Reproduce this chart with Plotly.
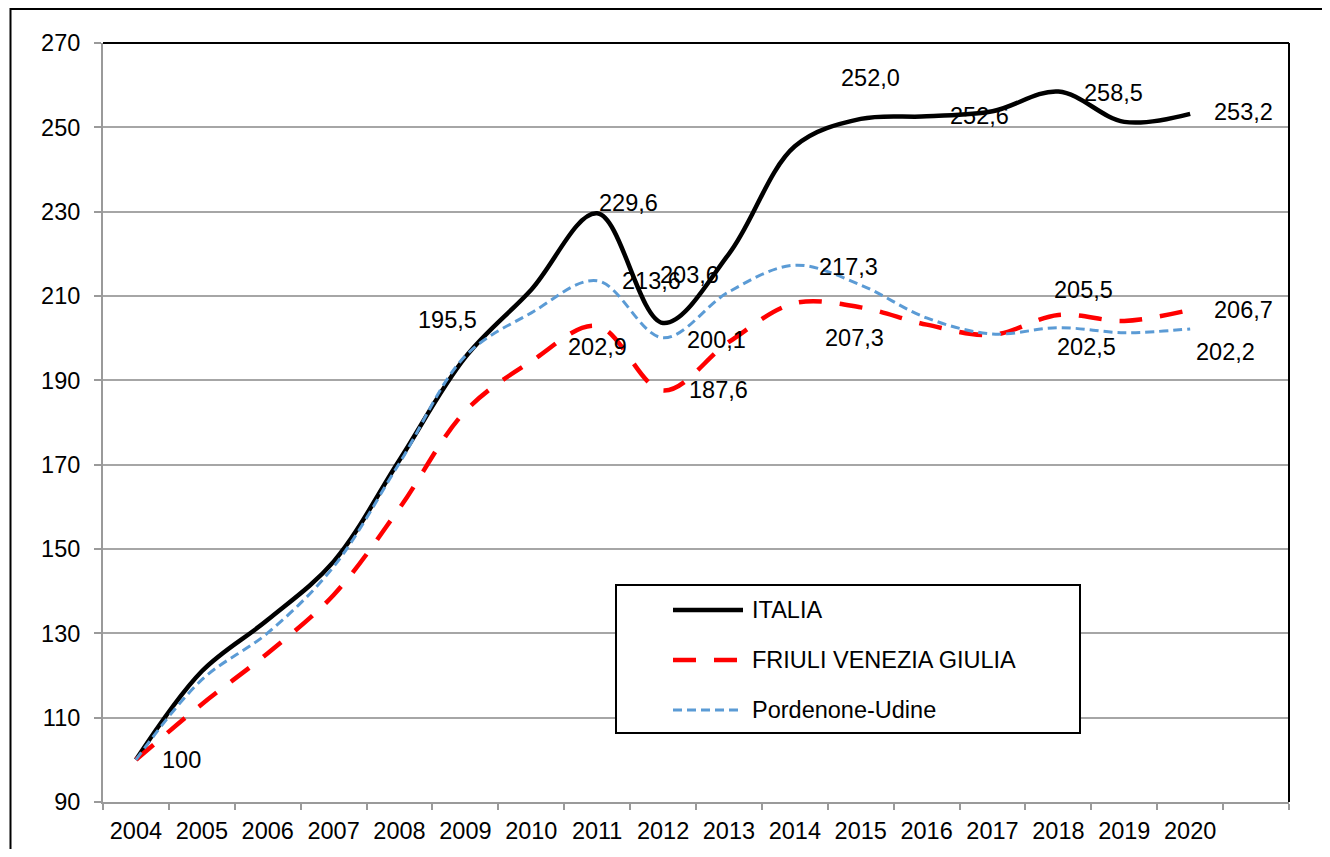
import plotly.graph_objects as go

# ---------------- data ----------------
years = ["2004", "2005", "2006", "2007", "2008", "2009", "2010", "2011", "2012",
         "2013", "2014", "2015", "2016", "2017", "2018", "2019", "2020"]

italia = [100, 121.0, 133.2, 147.0, 171.1, 195.5, 211.5, 229.6, 203.6,
          220.0, 245.5, 252.0, 252.6, 253.8, 258.5, 251.3, 253.2]
fvg = [100, 113.2, 125.3, 139.1, 159.7, 182.7, 194.5, 202.9, 187.6,
       199.1, 208.3, 207.3, 203.2, 200.8, 205.5, 204.1, 206.7]
pordenone_udine = [100, 119.0, 130.1, 145.8, 170.4, 195.8, 206.0, 213.6, 200.1,
                   211.0, 217.3, 212.6, 204.8, 201.0, 202.5, 201.3, 202.2]

series_names = ["ITALIA", "FRIULI VENEZIA GIULIA", "Pordenone-Udine"]

# years that carry a data label, per series
italia_label_years = ["2004", "2009", "2011", "2012", "2015", "2016", "2018", "2020"]
fvg_label_years = ["2011", "2012", "2015", "2018", "2020"]
pu_label_years = ["2011", "2012", "2014", "2018", "2020"]

y_ticks = [90, 110, 130, 150, 170, 190, 210, 230, 250, 270]

# ---------------- styles ----------------
FONT = "Arial, Liberation Sans, sans-serif"
FS = 23.5
GRID = "#a6a6a6"
AXIS = "#9a9a9a"

styles = {
    "ITALIA": dict(color="#000000", width=4.5, dash="solid"),
    "FRIULI VENEZIA GIULIA": dict(color="#ff0000", width=4.5, dash="23px,18px"),
    "Pordenone-Udine": dict(color="#5b9bd5", width=3, dash="9px,5px"),
}

# label placement: (xanchor, xshift, yshift) in pixels
label_pos = {
    ("ITALIA", "2004"): ("left", 24, 0),
    ("ITALIA", "2009"): ("center", -18, 37),
    ("ITALIA", "2011"): ("left", 0, 10),
    ("ITALIA", "2012"): ("left", -5, 48),
    ("ITALIA", "2015"): ("center", 10, 41),
    ("ITALIA", "2016"): ("left", 21, 0),
    ("ITALIA", "2018"): ("left", 24, -2),
    ("ITALIA", "2020"): ("left", 22, 2),
    ("FRIULI VENEZIA GIULIA", "2011"): ("center", 0, -21),
    ("FRIULI VENEZIA GIULIA", "2012"): ("left", 24, 0),
    ("FRIULI VENEZIA GIULIA", "2015"): ("center", -6, -31),
    ("FRIULI VENEZIA GIULIA", "2018"): ("center", 25, 25),
    ("FRIULI VENEZIA GIULIA", "2020"): ("left", 22, 0),
    ("Pordenone-Udine", "2011"): ("left", 23, 0),
    ("Pordenone-Udine", "2012"): ("left", 22, -2),
    ("Pordenone-Udine", "2014"): ("left", 22, -2),
    ("Pordenone-Udine", "2018"): ("center", 28, -19),
    ("Pordenone-Udine", "2020"): ("center", 35, -23),
}

# reference-pixel geometry of plot area (for paper-coordinate decorations)
PL, PR, PT, PB = 103, 1289, 43, 802


def px(x):
    return (x - PL) / (PR - PL)


def py(y):
    return (PB - y) / (PB - PT)


def fmt(v, i):
    if i == 0:  # base year index = 100
        return str(int(round(v)))
    return f"{v:.1f}".replace(".", ",")


xs = list(range(len(years)))
data = [italia, fvg, pordenone_udine]
label_years = [italia_label_years, fvg_label_years, pu_label_years]

fig = go.Figure()
for name, vals in zip(series_names, data):
    st = styles[name]
    fig.add_trace(go.Scatter(
        x=xs, y=vals, mode="lines", name=name,
        line=dict(color=st["color"], width=st["width"], dash=st["dash"],
                  shape="spline", smoothing=1.0),
        showlegend=False, hoverinfo="x+y+name",
    ))

annotations = []
for name, vals, lys in zip(series_names, data, label_years):
    for yr in lys:
        i = years.index(yr)
        xa, xsft, ysft = label_pos[(name, yr)]
        annotations.append(dict(
            x=xs[i], y=vals[i], xref="x", yref="y", text=fmt(vals[i], i),
            showarrow=False, xanchor=xa, yanchor="middle",
            xshift=xsft, yshift=ysft,
            font=dict(family=FONT, size=FS, color="#000000"),
        ))

# custom legend (box, samples, texts)
shapes = []
shapes.append(dict(type="rect", xref="paper", yref="paper",
                   x0=px(616), x1=px(1080), y0=py(733), y1=py(585),
                   line=dict(color="#000000", width=2), fillcolor="white",
                   layer="above"))
legend_rows = [610, 660, 710]
for name, row in zip(series_names, legend_rows):
    st = styles[name]
    shapes.append(dict(type="line", xref="paper", yref="paper",
                       x0=px(673), x1=px(743), y0=py(row), y1=py(row),
                       line=dict(color=st["color"], width=st["width"], dash=st["dash"]),
                       layer="above"))
    annotations.append(dict(x=px(750), y=py(row), xref="paper", yref="paper",
                            text=name, showarrow=False, xanchor="left",
                            yanchor="middle",
                            font=dict(family=FONT, size=FS, color="#000000")))

# plot-area top and right border (black)
shapes.append(dict(type="line", xref="paper", yref="paper", x0=0, x1=1, y0=1, y1=1,
                   line=dict(color="#000000", width=2), layer="above"))
shapes.append(dict(type="line", xref="paper", yref="paper", x0=1, x1=1, y0=0, y1=1,
                   line=dict(color="#000000", width=2), layer="above"))
# outer chart frame
shapes.append(dict(type="rect", xref="paper", yref="paper",
                   x0=px(10.5), x1=px(1360), y0=py(880), y1=py(9),
                   line=dict(color="#000000", width=2), layer="above"))

fig.update_layout(
    width=1314, height=841,
    margin=dict(l=95, r=33, t=35, b=47, pad=0),
    paper_bgcolor="white", plot_bgcolor="white",
    font=dict(family=FONT, size=FS, color="#000000"),
    showlegend=False,
    annotations=annotations,
    shapes=shapes,
    xaxis=dict(
        range=[-0.5, len(years) + 0.5],
        tickmode="array", tickvals=xs, ticktext=years,
        ticks="", showgrid=False, zeroline=False, automargin=False,
        showline=True, linecolor=AXIS, linewidth=2,
        tickfont=dict(family=FONT, size=FS, color="#000000"),
        ticklabelstandoff=7,
        minor=dict(tickmode="array",
                   tickvals=[i - 0.5 for i in range(len(years) + 2)],
                   ticks="outside", ticklen=6, tickcolor=AXIS, tickwidth=2,
                   showgrid=False),
    ),
    yaxis=dict(
        range=[90, 270], tickmode="array", tickvals=y_ticks,
        ticks="outside", ticklen=7, tickcolor=AXIS, tickwidth=2,
        showgrid=True, gridcolor=GRID, gridwidth=1.5, automargin=False,
        zeroline=False, showline=True, linecolor=AXIS, linewidth=2,
        tickfont=dict(family=FONT, size=FS, color="#000000"),
        ticklabelstandoff=9,
    ),
)

fig.write_html("out.html")
